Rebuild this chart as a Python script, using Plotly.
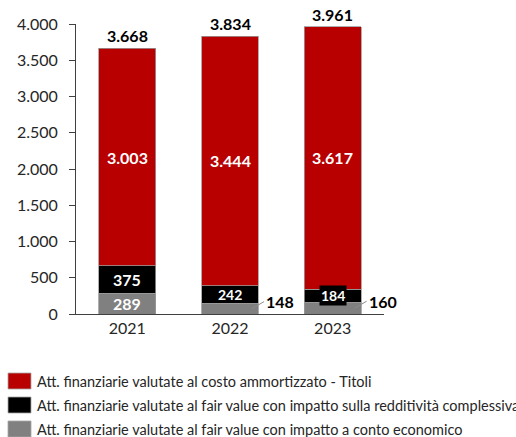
import plotly.graph_objects as go

# Categories and series values (millions)
years = ["2021", "2022", "2023"]
fv_conto_economico = [289, 148, 160]
fv_redditivita = [375, 242, 184]
costo_ammortizzato = [3003, 3444, 3617]
totals = [3668, 3834, 3961]

series_names = [
    "Att. finanziarie valutate al costo ammortizzato - Titoli",
    "Att. finanziarie valutate al fair value con impatto sulla redditività complessiva",
    "Att. finanziarie valutate al fair value con impatto a conto economico",
]

RED = "#B80000"
BLACK = "#000000"
GREY = "#808080"
TEXT = "#262626"
FONT = "Lato"

W, H = 516, 437
ML, MR, MT, MB = 76, 132, 24, 123
PW, PH = W - ML - MR, H - MT - MB


def fmt(v):
    return f"{v:,}".replace(",", ".")


def px2x(px):
    return (px - ML) / PW


def px2y(py):
    return (H - MB - py) / PH


fig = go.Figure()
outline = dict(color="#9a9a9a", width=0.8)
fig.add_bar(x=years, y=fv_conto_economico, marker=dict(color=GREY, line=outline),
            name=series_names[2], showlegend=False)
fig.add_bar(x=years, y=fv_redditivita, marker=dict(color=BLACK, line=outline),
            name=series_names[1], showlegend=False)
fig.add_bar(x=years, y=costo_ammortizzato, marker=dict(color=RED, line=outline),
            name=series_names[0], showlegend=False)

# labels are placed by category index so the year strings are never read as numbers
annotations = []
for i in range(len(years)):
    g, b, r = fv_conto_economico[i], fv_redditivita[i], costo_ammortizzato[i]
    # total above the bar
    annotations.append(dict(x=i, y=totals[i], text=f"<b>{fmt(totals[i])}</b>",
                            showarrow=False, yanchor="bottom", yshift=1,
                            font=dict(family=FONT, size=16, color="#000")))
    # red segment value
    annotations.append(dict(x=i, y=g + b + r / 2, text=f"<b>{fmt(r)}</b>",
                            showarrow=False, font=dict(family=FONT, size=16, color="#fff")))

# 2021: values fit inside the segments
annotations.append(dict(x=0, y=fv_conto_economico[0] + fv_redditivita[0] / 2,
                        text=f"<b>{fmt(fv_redditivita[0])}</b>", showarrow=False,
                        font=dict(family=FONT, size=16, color="#fff")))
annotations.append(dict(x=0, y=fv_conto_economico[0] / 2,
                        text=f"<b>{fmt(fv_conto_economico[0])}</b>", showarrow=False,
                        font=dict(family=FONT, size=16, color="#fff")))
# 2022 / 2023: smaller black-segment labels
annotations.append(dict(x=1, y=fv_conto_economico[1] + fv_redditivita[1] / 2,
                        text=f"<b>{fmt(fv_redditivita[1])}</b>", showarrow=False,
                        font=dict(family=FONT, size=14, color="#fff")))
annotations.append(dict(x=2, y=fv_conto_economico[2] + fv_redditivita[2] / 2,
                        text=f"<b>{fmt(fv_redditivita[2])}</b>", showarrow=False,
                        bgcolor=BLACK, borderpad=1,
                        font=dict(family=FONT, size=14, color="#fff")))
# grey segment values pulled out with a leader line
for i in (1, 2):
    annotations.append(dict(x=i, y=fv_conto_economico[i] / 2, xshift=22,
                            text=f"<b>{fmt(fv_conto_economico[i])}</b>",
                            showarrow=True, arrowhead=0, arrowwidth=1,
                            arrowcolor="#8c8c8c", ax=12, ay=-7, standoff=0,
                            xanchor="left",
                            font=dict(family=FONT, size=16, color="#000")))

# legend drawn as swatches + labels below the chart
shapes = []
legend_rows = [(381, RED, series_names[0]), (405, BLACK, series_names[1]),
               (429, GREY, series_names[2])]
for cy, col, label in legend_rows:
    shapes.append(dict(type="rect", xref="paper", yref="paper",
                       x0=px2x(8), x1=px2x(31), y0=px2y(cy + 8), y1=px2y(cy - 8),
                       fillcolor=col, line=dict(color="#a6a6a6", width=0.8)))
    annotations.append(dict(xref="paper", yref="paper", x=px2x(35), y=px2y(cy),
                            xanchor="left", yanchor="middle", showarrow=False,
                            text=label, font=dict(family=FONT, size=14.5, color=TEXT)))

fig.update_layout(
    barmode="stack",
    bargap=0.445,
    width=W, height=H,
    margin=dict(l=ML, r=MR, t=MT, b=MB),
    paper_bgcolor="#fff", plot_bgcolor="#fff",
    separators=",.",
    font=dict(family=FONT, color=TEXT),
    annotations=annotations,
    shapes=shapes,
    showlegend=False,
)
fig.update_xaxes(type="category", range=[-0.5, len(years) - 0.5], autorange=False,
                 showline=True, linecolor="#404040", linewidth=1,
                 ticks="", tickfont=dict(family=FONT, size=16, color=TEXT))
fig.update_yaxes(range=[0, 4000], dtick=500, tickformat=",d", showgrid=False,
                 showline=True, linecolor="#404040", linewidth=1, ticks="outside",
                 ticklen=6, tickcolor="#404040", zeroline=False, ticklabelstandoff=8,
                 tickfont=dict(family=FONT, size=16, color=TEXT))

fig.write_html("out.html")
